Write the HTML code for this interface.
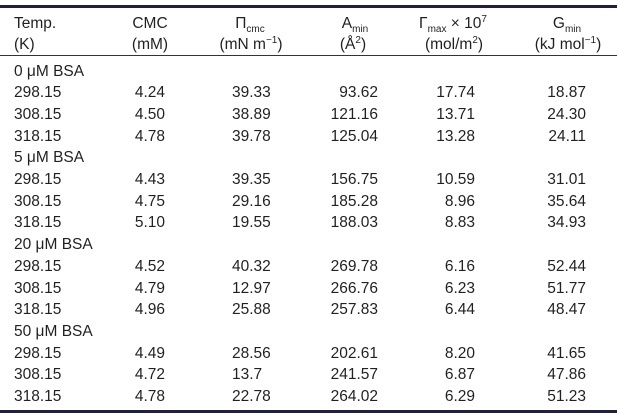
<!DOCTYPE html>
<html><head><meta charset="utf-8"><style>
body{margin:0;background:#fff;}
#c{position:relative;width:619px;height:416px;overflow:hidden;font-family:"Liberation Sans",sans-serif;font-size:15.5px;color:#231f20;}
.l{position:absolute;white-space:nowrap;line-height:18px;}
.r{position:absolute;white-space:nowrap;line-height:18px;text-align:right;}
.h{position:absolute;white-space:nowrap;line-height:18px;text-align:center;width:120px;}
sub,sup{font-size:10px;line-height:0;}
</style></head><body><div id="c">
<div style="position:absolute;left:0;top:5px;width:617px;height:3px;background:#1f1f3f"></div>
<div style="position:absolute;left:0;top:55px;width:617px;height:1px;background:#333"></div>
<div style="position:absolute;left:0;top:410px;width:617px;height:3px;background:#1f1f3f"></div>

<div class="l" style="left:14px;top:15px">Temp.</div>
<div class="l" style="left:14px;top:36px">(K)</div>
<div class="h" style="left:90px;top:15px">CMC</div>
<div class="h" style="left:90px;top:36px">(mM)</div>
<div class="h" style="left:190px;top:15px">Π<sub>cmc</sub></div>
<div class="h" style="left:191px;top:36px">(mN m<sup>−1</sup>)</div>
<div class="h" style="left:295px;top:15px">A<sub>min</sub></div>
<div class="h" style="left:293px;top:36px">(Å<sup>2</sup>)</div>
<div class="h" style="left:393px;top:15px">Γ<sub>max</sub> × 10<sup>7</sup></div>
<div class="h" style="left:394px;top:36px">(mol/m<sup>2</sup>)</div>
<div class="h" style="left:507px;top:15px">G<sub>min</sub></div>
<div class="h" style="left:508px;top:36px">(kJ mol<sup>−1</sup>)</div>

<div id="rows"></div>
</div>
<script>
var d=[["0 μM BSA"],["298.15","4.24","39.33","93.62","17.74","18.87"],["308.15","4.50","38.89","121.16","13.71","24.30"],["318.15","4.78","39.78","125.04","13.28","24.11"],
["5 μM BSA"],["298.15","4.43","39.35","156.75","10.59","31.01"],["308.15","4.75","29.16","185.28","8.96","35.64"],["318.15","5.10","19.55","188.03","8.83","34.93"],
["20 μM BSA"],["298.15","4.52","40.32","269.78","6.16","52.44"],["308.15","4.79","12.97","266.76","6.23","51.77"],["318.15","4.96","25.88","257.83","6.44","48.47"],
["50 μM BSA"],["298.15","4.49","28.56","202.61","8.20","41.65"],["308.15","4.72","13.7","241.57","6.87","47.86"],["318.15","4.78","22.78","264.02","6.29","51.23"]];
var R=[165,0,378,475,586],h="";
d.forEach(function(r,i){var t=62.5+i*21.7;
h+='<div class="l" style="left:14px;top:'+t+'px">'+r[0]+'</div>';
for(var j=1;j<r.length;j++){
 if(j==2)h+='<div class="l" style="left:232px;top:'+t+'px">'+r[j]+'</div>';
 else h+='<div class="r" style="right:'+(619-R[j-1])+'px;top:'+t+'px">'+r[j]+'</div>';}});
document.getElementById("rows").innerHTML=h;
</script>
</body></html>
